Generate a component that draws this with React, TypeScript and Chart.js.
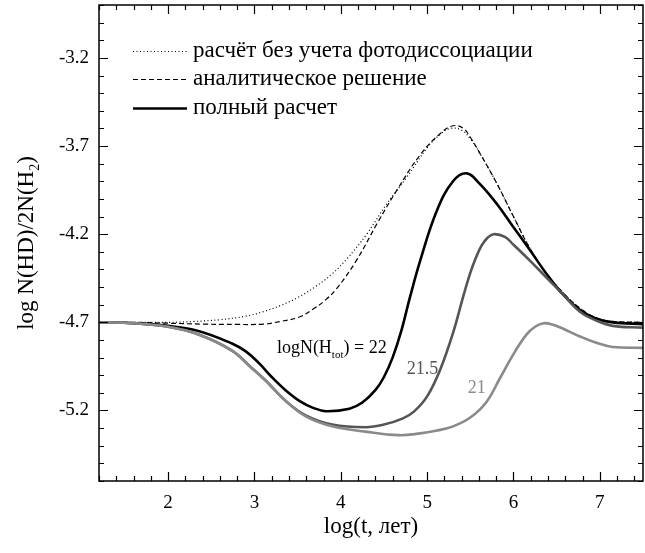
import React, { useEffect, useRef } from 'react';
import { Chart, registerables } from 'chart.js';

Chart.register(...registerables);

// ---------- data ----------
const xTicks = [2, 3, 4, 5, 6, 7];
const yTicks = [-5.2, -4.7, -4.2, -3.7, -3.2];
const xMin = 1.2;
const xMax = 7.5;
const yMin = -5.6;
const yMax = -2.9;

// calculation without photodissociation (dotted)
const xNoPhoto = [1.2, 1.6, 2.0, 2.3, 2.6, 2.9, 3.1, 3.3, 3.5, 3.7, 3.9, 4.07, 4.3, 4.53, 4.76, 5.0, 5.15, 5.27, 5.4, 5.5, 5.61, 5.81, 6.0, 6.19, 6.39, 6.57, 6.77, 6.96, 7.15, 7.5];
const yNoPhoto = [-4.70, -4.70, -4.70, -4.695, -4.685, -4.665, -4.64, -4.605, -4.56, -4.50, -4.425, -4.34, -4.20, -4.03, -3.88, -3.71, -3.635, -3.60, -3.61, -3.66, -3.74, -3.915, -4.10, -4.28, -4.43, -4.53, -4.62, -4.675, -4.695, -4.70];

// analytic solution (dashed)
const xAnalytic = [1.2, 1.6, 2.0, 2.4, 2.8, 3.1, 3.3, 3.52, 3.68, 3.83, 3.95, 4.18, 4.42, 4.65, 4.92, 5.15, 5.30, 5.42, 5.5, 5.61, 5.81, 6.0, 6.19, 6.39, 6.57, 6.77, 6.96, 7.15, 7.5];
const yAnalytic = [-4.70, -4.70, -4.705, -4.71, -4.712, -4.71, -4.695, -4.67, -4.625, -4.57, -4.51, -4.35, -4.14, -3.95, -3.75, -3.63, -3.585, -3.60, -3.65, -3.74, -3.915, -4.10, -4.28, -4.43, -4.53, -4.62, -4.675, -4.695, -4.70];

// full calculation, logN(Htot) = 22
const xFull22 = [1.2, 1.6, 2.0, 2.36, 2.74, 2.9, 3.05, 3.2, 3.36, 3.52, 3.68, 3.83, 4.1, 4.25, 4.4, 4.5, 4.6, 4.7, 4.8, 4.92, 5.11, 5.30, 5.46, 5.61, 5.81, 6.0, 6.19, 6.39, 6.57, 6.77, 6.96, 7.15, 7.5];
const yFull22 = [-4.70, -4.705, -4.72, -4.75, -4.82, -4.865, -4.93, -5.01, -5.085, -5.145, -5.185, -5.204, -5.19, -5.155, -5.085, -5.01, -4.90, -4.75, -4.56, -4.35, -4.07, -3.90, -3.855, -3.915, -4.03, -4.16, -4.29, -4.43, -4.54, -4.63, -4.68, -4.70, -4.71];

// full calculation, logN(Htot) = 21.5
const xFull215 = [1.2, 1.6, 2.0, 2.36, 2.74, 2.95, 3.13, 3.36, 3.6, 3.9, 4.29, 4.5, 4.72, 4.85, 5.0, 5.15, 5.30, 5.42, 5.5, 5.56, 5.63, 5.7, 5.77, 5.9, 6.0, 6.19, 6.39, 6.57, 6.77, 6.96, 7.15, 7.5];
const yFull215 = [-4.70, -4.705, -4.725, -4.77, -4.86, -4.95, -5.03, -5.145, -5.23, -5.28, -5.295, -5.28, -5.245, -5.205, -5.12, -4.97, -4.76, -4.55, -4.42, -4.34, -4.265, -4.22, -4.20, -4.215, -4.26, -4.35, -4.45, -4.54, -4.64, -4.69, -4.72, -4.73];

// full calculation, logN(Htot) = 21
const xFull21 = [1.2, 1.6, 2.0, 2.36, 2.74, 2.95, 3.13, 3.36, 3.6, 3.9, 4.29, 4.67, 4.92, 5.1, 5.30, 5.50, 5.69, 5.84, 6.0, 6.15, 6.25, 6.35, 6.45, 6.57, 6.77, 6.96, 7.15, 7.5];
const yFull21 = [-4.70, -4.705, -4.725, -4.77, -4.86, -4.95, -5.03, -5.145, -5.235, -5.29, -5.32, -5.34, -5.33, -5.315, -5.29, -5.24, -5.15, -5.02, -4.88, -4.77, -4.725, -4.705, -4.712, -4.735, -4.78, -4.816, -4.84, -4.845];

const legendLabels = ['расчёт без учета фотодиссоциации', 'аналитическое решение', 'полный расчет'];
const xTitle = 'log(t, лет)';

const FONT = "'Liberation Serif', serif";

const toPts = (xs: number[], ys: number[]) => xs.map((x, i) => ({ x, y: ys[i] }));

const decorPlugin = {
  id: 'decor',
  afterDraw(chart: any) {
    const { ctx, chartArea: ca, scales } = chart;
    const xs = scales.x;
    const ys = scales.y;
    ctx.save();
    // frame
    ctx.strokeStyle = '#000';
    ctx.lineWidth = 1.5;
    ctx.setLineDash([]);
    ctx.strokeRect(ca.left, ca.top, ca.right - ca.left, ca.bottom - ca.top);
    ctx.lineWidth = 1.2;
    // x ticks (inward, top and bottom)
    for (let i = 0; i <= Math.round((xMax - xMin) / 0.2); i++) {
      const v = xMin + i * 0.2;
      const major = Math.abs(v - Math.round(v)) < 1e-6;
      const len = major ? 9 : 5;
      const p = Math.round(xs.getPixelForValue(v)) + 0.5;
      ctx.beginPath();
      ctx.moveTo(p, ca.bottom);
      ctx.lineTo(p, ca.bottom - len);
      ctx.moveTo(p, ca.top);
      ctx.lineTo(p, ca.top + len);
      ctx.stroke();
    }
    // y ticks (inward, left and right)
    for (let i = 0; i <= Math.round((yMax - yMin) / 0.1); i++) {
      const v = yMin + i * 0.1;
      const major = yTicks.some((t) => Math.abs(t - v) < 1e-6);
      const len = major ? 9 : 5;
      const p = Math.round(ys.getPixelForValue(v)) + 0.5;
      ctx.beginPath();
      ctx.moveTo(ca.left, p);
      ctx.lineTo(ca.left + len, p);
      ctx.moveTo(ca.right, p);
      ctx.lineTo(ca.right - len, p);
      ctx.stroke();
    }

    // legend
    const lx0 = ca.left + 34;
    const lx1 = ca.left + 88;
    const rows = [ca.top + 46, ca.top + 74, ca.top + 103];
    const styles = [
      { dash: [1, 2.5], w: 1.2 },
      { dash: [5, 3], w: 1.2 },
      { dash: [], w: 2.6 },
    ];
    ctx.font = `23px ${FONT}`;
    ctx.fillStyle = '#000';
    ctx.textAlign = 'left';
    ctx.textBaseline = 'alphabetic';
    rows.forEach((y, i) => {
      ctx.beginPath();
      ctx.setLineDash(styles[i].dash);
      ctx.lineWidth = styles[i].w;
      ctx.moveTo(lx0, y + 0.5);
      ctx.lineTo(lx1, y + 0.5);
      ctx.stroke();
      ctx.fillText(legendLabels[i], lx1 + 6, y + 6);
    });
    ctx.setLineDash([]);

    // curve annotations (anchored in data units)
    const drawSub = (x0: number, y0: number, parts: { t: string; sub?: boolean }[], color: string) => {
      let x = x0;
      ctx.fillStyle = color;
      parts.forEach((p) => {
        ctx.font = p.sub ? `11px ${FONT}` : `18px ${FONT}`;
        ctx.fillText(p.t, x, p.sub ? y0 + 5 : y0);
        x += ctx.measureText(p.t).width;
      });
    };
    drawSub(xs.getPixelForValue(3.26), ys.getPixelForValue(-4.875), [
      { t: 'logN(H' }, { t: 'tot', sub: true }, { t: ') = 22' },
    ], '#000');
    drawSub(xs.getPixelForValue(4.765), ys.getPixelForValue(-4.995), [{ t: '21.5' }], '#555');
    drawSub(xs.getPixelForValue(5.47), ys.getPixelForValue(-5.1), [{ t: '21' }], '#8a8a8a');

    // x axis title
    ctx.fillStyle = '#000';
    ctx.font = `23px ${FONT}`;
    ctx.textAlign = 'center';
    ctx.fillText(xTitle, (ca.left + ca.right) / 2, 533);

    // y axis title with subscript
    ctx.save();
    ctx.translate(33, (ca.top + ca.bottom) / 2);
    ctx.rotate(-Math.PI / 2);
    ctx.textAlign = 'left';
    const p1 = 'log N(HD)/2N(H';
    const p2 = '2';
    const p3 = ')';
    ctx.font = `23px ${FONT}`;
    const w1 = ctx.measureText(p1).width;
    const w3 = ctx.measureText(p3).width;
    ctx.font = `14px ${FONT}`;
    const w2 = ctx.measureText(p2).width;
    const total = w1 + w2 + w3;
    let x = -total / 2;
    ctx.font = `23px ${FONT}`;
    ctx.fillText(p1, x, 0);
    x += w1;
    ctx.font = `14px ${FONT}`;
    ctx.fillText(p2, x, 6);
    x += w2;
    ctx.font = `23px ${FONT}`;
    ctx.fillText(p3, x, 0);
    ctx.restore();

    ctx.restore();
  },
};

export default function App() {
  const ref = useRef<HTMLCanvasElement | null>(null);

  useEffect(() => {
    document.body.style.margin = '0';
    const canvas = ref.current;
    if (!canvas) return;
    const lineCommon = { pointRadius: 0, tension: 0.4, fill: false };
    const chart = new Chart(canvas, {
      type: 'line',
      data: {
        datasets: [
          { label: 'logN=21', data: toPts(xFull21, yFull21), borderColor: '#8a8a8a', borderWidth: 2.6, ...lineCommon },
          { label: 'logN=21.5', data: toPts(xFull215, yFull215), borderColor: '#555555', borderWidth: 2.6, ...lineCommon },
          { label: legendLabels[0], data: toPts(xNoPhoto, yNoPhoto), borderColor: '#000', borderWidth: 1.2, borderDash: [1, 2.5], ...lineCommon },
          { label: legendLabels[1], data: toPts(xAnalytic, yAnalytic), borderColor: '#000', borderWidth: 1.2, borderDash: [5, 3], ...lineCommon },
          { label: legendLabels[2], data: toPts(xFull22, yFull22), borderColor: '#000', borderWidth: 2.6, ...lineCommon },
        ],
      },
      options: {
        animation: false,
        responsive: false,
        devicePixelRatio: 1,
        parsing: false,
        layout: { padding: { left: 0, right: 2, top: 5, bottom: 0 } },
        plugins: { legend: { display: false }, tooltip: { enabled: false } },
        scales: {
          x: {
            type: 'linear',
            min: xMin,
            max: xMax,
            grid: { display: false, drawTicks: false },
            border: { display: false },
            ticks: {
              font: { family: FONT, size: 19 },
              color: '#000',
              padding: 11,
              maxRotation: 0,
              autoSkip: false,
              callback: (v: any) => String(v),
            },
            afterBuildTicks: (s: any) => {
              s.ticks = xTicks.map((v) => ({ value: v }));
            },
            afterFit: (s: any) => {
              s.height = 72;
              s.paddingLeft = 0;
              s.paddingRight = 0;
            },
          },
          y: {
            type: 'linear',
            min: yMin,
            max: yMax,
            grid: { display: false, drawTicks: false },
            border: { display: false },
            ticks: {
              font: { family: FONT, size: 19 },
              color: '#000',
              padding: 10,
              autoSkip: false,
              callback: (v: any) => String(v),
            },
            afterBuildTicks: (s: any) => {
              s.ticks = yTicks.map((v) => ({ value: v }));
            },
            afterFit: (s: any) => {
              s.width = 99;
              s.paddingTop = 0;
              s.paddingBottom = 0;
            },
          },
        },
      } as any,
      plugins: [decorPlugin],
    });
    return () => chart.destroy();
  }, []);

  return (
    <div style={{ position: 'absolute', left: 0, top: 0, width: 645, height: 553, background: '#fff' }}>
      <canvas ref={ref} width={645} height={553} style={{ display: 'block', width: 645, height: 553 }} />
    </div>
  );
}
